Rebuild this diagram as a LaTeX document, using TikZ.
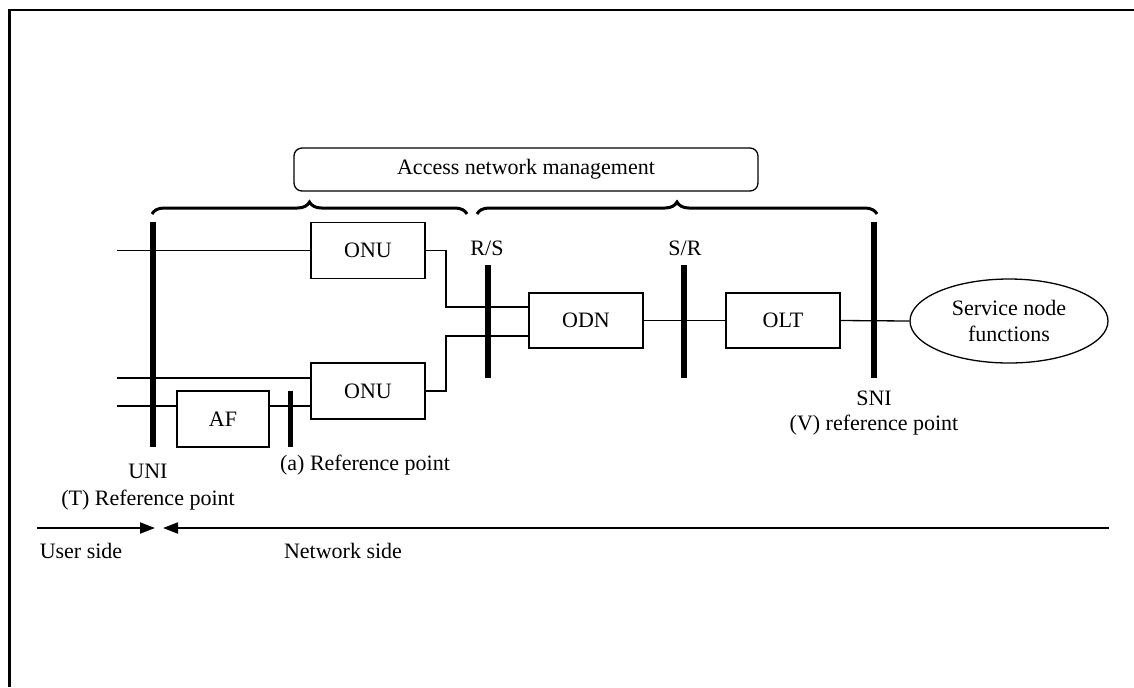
\documentclass[tikz,border=0pt]{standalone}
\usepackage{fontspec}
\setmainfont{Liberation Serif}
\usetikzlibrary{decorations.pathreplacing,arrows.meta,shapes.geometric}
\begin{document}
\begin{tikzpicture}[x=0.5pt,y=-0.5pt,
  font=\fontsize{11}{13}\selectfont,
  box/.style={draw, line width=0.65pt, minimum width=57pt, minimum height=28pt, inner sep=0pt},
  bar/.style={fill=black, inner sep=0pt, minimum width=3pt},
  wire/.style={line width=0.65pt},
  grp/.style={decorate, decoration={brace, amplitude=6pt}, line width=1.5pt},
  side/.style={line width=1pt, -{Triangle[length=7.5pt,width=5.5pt]}}]

\useasboundingbox (0,0) rectangle (1134,687);
% frame edges
\draw[line width=1.4pt] (9.5,687) -- (9.5,10) -- (1134,10);

% management box and its braces
\node[draw, rounded corners=4pt, line width=0.65pt, minimum width=232pt,
      minimum height=21.5pt, inner sep=0pt] (anm) at (526,169.5) {Access network management};
\coordinate (b1l) at (152,214);
\coordinate (b1r) at (467,214);
\coordinate (b2l) at (477,214);
\coordinate (b2r) at (877,214);
\draw[grp] (b1l) -- (b1r);
\draw[grp] (b2l) -- (b2r);

% reference point bars
\node[bar, minimum height=112.5pt] (uni) at (153,334.5) {};
\node[bar, minimum height=56.5pt] (rs) at (488,321.5) {};
\node[bar, minimum height=56.5pt] (sr) at (684,321.5) {};
\node[bar, minimum height=78pt] (sni) at (874,300) {};
\node[bar, minimum width=2.5pt, minimum height=28pt] (abar) at (290,419) {};

% functional blocks
\node[box] (onu1) at (368,250.5) {ONU};
\node[box] (onu2) at (368,391) {ONU};
\node[box, minimum width=46pt] (af) at (223,419) {AF};
\node[box, minimum height=27.5pt] (odn) at (586,320.5) {ODN};
\node[box, minimum height=27.5pt] (olt) at (783,320.5) {OLT};
\node[draw, ellipse, line width=0.65pt, minimum width=99pt, minimum height=42pt,
      inner sep=0pt, align=center] (snf) at (1009,321) {Service node\\functions};

% user side inputs
\coordinate (in1) at (117,250.5);
\coordinate (in2) at (117,378);
\coordinate (in3) at (117,406);
\draw[wire] (in1) -- (onu1.west);
\draw[wire] (in2) -- (in2 -| onu2.west);
\draw[wire] (in3) -- (in3 -| af.west);
\draw[wire] (af.east |- in3) -- (in3 -| onu2.west);

% ONU to ODN
\coordinate (j1) at (446,307);
\coordinate (j2) at (446,336);
\draw[wire] (onu1.east) -| (j1) -- (j1 -| odn.west);
\draw[wire] (onu2.east) -| (j2) -- (j2 -| odn.west);
\draw[wire] (odn.east) -- (olt.west);
\draw[wire] (olt.east) -- (snf.west);

% labels
\node (rsl) at (487,248) {R/S};
\node (srl) at (685,248) {S/R};
\node[align=center, font=\fontsize{11}{12.5}\selectfont] (snil) at (874,413) {SNI\\(V) reference point};
\node[align=center, font=\fontsize{11}{13.5}\selectfont] (unil) at (148,487) {UNI\\(T) Reference point};
\node (al) at (365,465) {(a) Reference point};

% user / network side arrows
\coordinate (ul) at (37,528);
\coordinate (ut) at (155,528);
\coordinate (nt) at (163,528);
\coordinate (nr) at (1109,528);
\draw[side] (ul) -- (ut);
\draw[side] (nr) -- (nt);
\node (us) at (81,551) {User side};
\node (ns) at (343,551) {Network side};
\end{tikzpicture}
\end{document}
